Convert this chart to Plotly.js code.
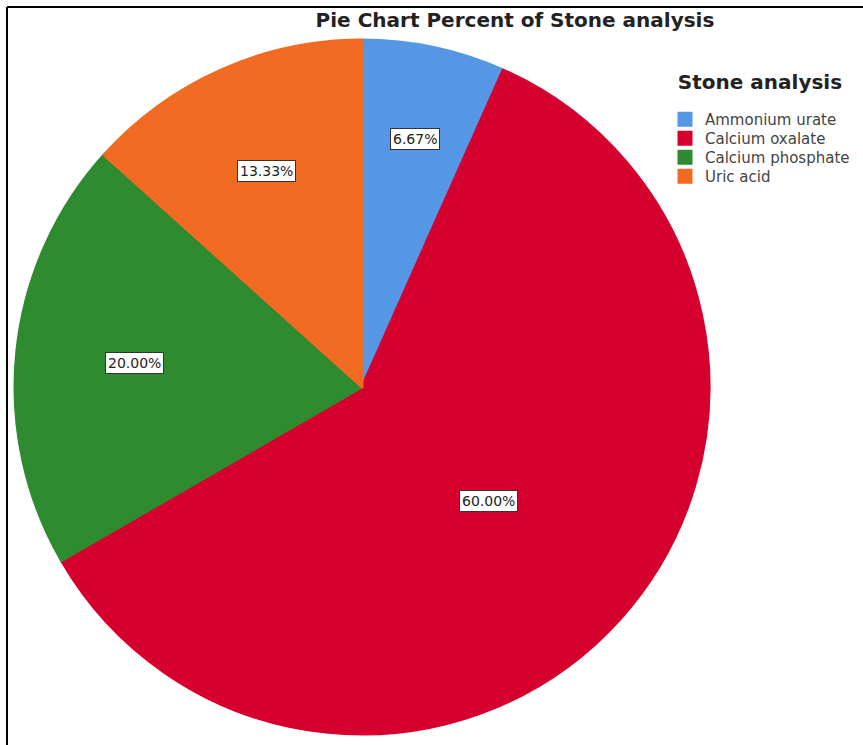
<!DOCTYPE html>
<html>
<head>
<meta charset="utf-8">
<script src="https://cdn.plot.ly/plotly-3.0.1.min.js"></script>
<style>
  html, body { margin: 0; padding: 0; background: #ffffff; }
  #chart { width: 863px; height: 745px; }
</style>
</head>
<body>
<div id="chart"></div>
<script>
// ---- data ----
const categories = ["Ammonium urate", "Calcium oxalate", "Calcium phosphate", "Uric acid"];
const counts = [1, 9, 3, 2];
const percentLabels = ["6.67%", "60.00%", "20.00%", "13.33%"];
const chartTitle = "Pie Chart Percent of Stone analysis";
const legendTitle = "Stone analysis";

// ---- style ----
const sliceColors = ["#5597E4", "#D6002F", "#2F8B2F", "#F26B23"];
const labelRadius = [0.73, 0.49, 0.66, 0.68]; // fraction of radius for label boxes
const W = 863, H = 745;
const CX = 362, CY = 387, R = 347;
const legendRowGap = 19;     // px between legend rows
const legendFirstShift = 14; // px extra gap under legend title

const total = counts.reduce((a, b) => a + b, 0);
let cum = 0;
const annotations = counts.map((v, i) => {
  const mid = (cum + v / 2) / total * 2 * Math.PI;
  cum += v;
  const px = CX + labelRadius[i] * R * Math.sin(mid);
  const py = CY - labelRadius[i] * R * Math.cos(mid);
  return {
    x: px / W, y: 1 - py / H, xref: "paper", yref: "paper",
    xanchor: "center", yanchor: "middle",
    text: percentLabels[i], showarrow: false,
    font: { family: "DejaVu Sans", size: 14, color: "#222222" },
    bgcolor: "#ffffff", bordercolor: "#333333", borderwidth: 1, borderpad: 2
  };
});

const trace = {
  type: "pie",
  labels: categories,
  values: counts,
  sort: false,
  direction: "clockwise",
  rotation: 0,
  textinfo: "none",
  hoverinfo: "label+percent",
  marker: { colors: sliceColors, line: { color: sliceColors, width: 3 } },
  domain: { x: [(CX - R) / W, (CX + R) / W], y: [(H - CY - R) / H, (H - CY + R) / H] }
};

const layout = {
  width: W, height: H,
  margin: { l: 0, r: 0, t: 0, b: 0 },
  paper_bgcolor: "#ffffff",
  font: { family: "DejaVu Sans", color: "#444444" },
  title: {
    text: "<b>" + chartTitle + "</b>",
    font: { family: "DejaVu Sans", size: 20, color: "#222222" },
    x: 515 / W, xanchor: "center", xref: "paper",
    y: 1 - 20 / H, yanchor: "middle", yref: "container"
  },
  showlegend: true,
  legend: {
    x: 665 / W, xanchor: "left",
    y: 1 - 63 / H, yanchor: "top",
    bgcolor: "rgba(0,0,0,0)",
    font: { family: "DejaVu Sans", size: 15, color: "#444444" },
    title: { text: "<b>" + legendTitle + "</b>", side: "top center", font: { family: "DejaVu Sans", size: 20, color: "#222222" } },
    itemclick: false
  },
  annotations: annotations,
  shapes: [
    { type: "line", xref: "paper", yref: "paper", x0: 7 / W, x1: 1, y0: 1 - 7 / H, y1: 1 - 7 / H, line: { color: "#000000", width: 2 } },
    { type: "line", xref: "paper", yref: "paper", x0: 7 / W, x1: 7 / W, y0: 0, y1: 1 - 7 / H, line: { color: "#000000", width: 2 } }
  ]
};

Plotly.newPlot("chart", [trace], layout, { displayModeBar: false, staticPlot: true }).then(gd => {
  // tighten legend row spacing to match the reference
  const items = gd.querySelectorAll(".legend .traces");
  if (!items.length) return;
  const parse = el => {
    const m = /translate\(\s*([-\d.]+)[ ,]+([-\d.]+)\s*\)/.exec(el.getAttribute("transform") || "");
    return m ? [parseFloat(m[1]), parseFloat(m[2])] : null;
  };
  const first = parse(items[0]);
  if (!first) return;
  items.forEach((el, i) => {
    const p = parse(el);
    if (!p) return;
    el.setAttribute("transform", "translate(" + p[0] + "," + (first[1] + legendFirstShift + i * legendRowGap) + ")");
  });
});
</script>
</body>
</html>
